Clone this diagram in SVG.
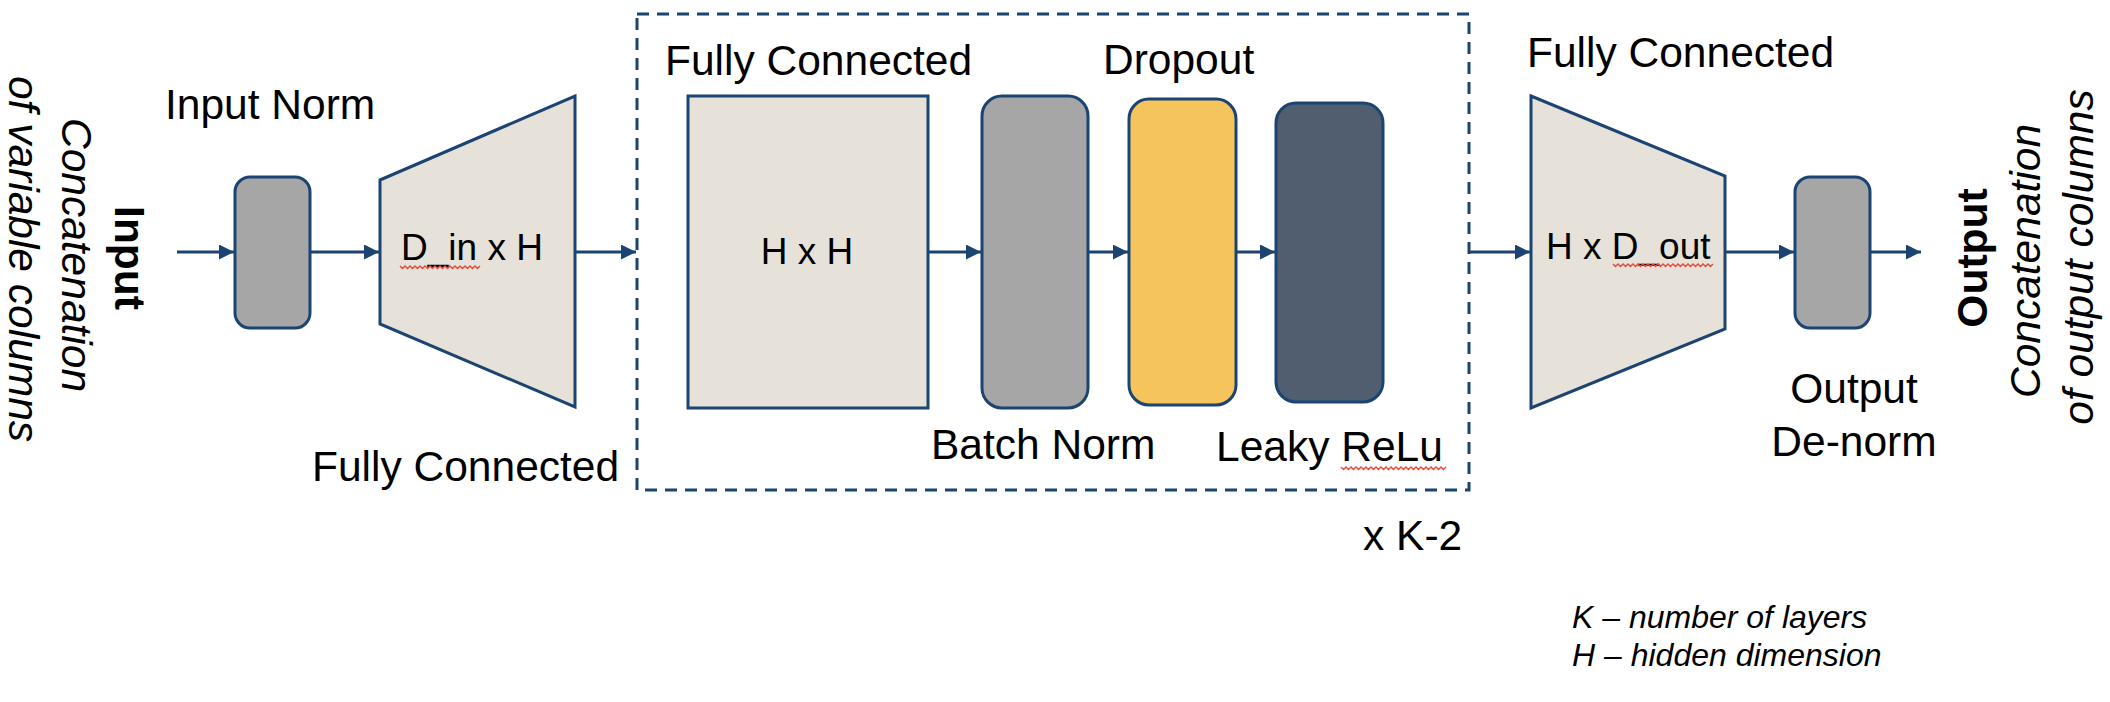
<svg xmlns="http://www.w3.org/2000/svg" width="2110" height="702" viewBox="0 0 2110 702">
<style>
  text { font-family: "Liberation Sans", Arial, sans-serif; fill: #000; }
  .lbl { font-size: 42.5px; }
  .inner { font-size: 37px; }
  .bold { font-size: 42.5px; font-weight: bold; }
  .ital { font-size: 42.5px; font-style: italic; }
  .legend { font-size: 32px; font-style: italic; }
  .mid { text-anchor: middle; }
  .node { stroke: #1B4472; stroke-width: 3; }
  .fc { fill: #E6E2D9; }
  .norm { fill: #A6A6A6; }
  .drop { fill: #F5C45C; }
  .relu { fill: #515E6F; }
  .conn line { stroke: #1B4472; stroke-width: 3; marker-end: url(#arr); }
  .squig { fill: none; stroke: #E8493B; stroke-width: 1.4; }
</style>
<defs>
  <marker id="arr" markerUnits="userSpaceOnUse" markerWidth="15" markerHeight="15" refX="15" refY="7.5" orient="auto">
    <path d="M0,0 L15,7.5 L0,15 z" fill="#1B4472"/>
  </marker>
</defs>
<rect width="2110" height="702" fill="#FFFFFF"/>

<g id="input-label">
  <text class="bold mid" transform="translate(115,258) rotate(90)">Input</text>
  <text class="ital mid" transform="translate(62,255) rotate(90)">Concatenation</text>
  <text class="ital mid" transform="translate(9,259) rotate(90)">of variable columns</text>
</g>

<g id="input-norm">
  <rect class="node norm" x="235" y="177" width="75" height="151" rx="15"/>
  <text class="lbl" x="165" y="119">Input Norm</text>
</g>

<g id="fc-in">
  <polygon class="node fc" points="380,180 575,96 575,407 380,324"/>
  <text class="inner" x="401" y="260">D_in x H</text>
  <path class="squig" d="M400,266 l2.5,2.5 l2.5,-2.5 l2.5,2.5 l2.5,-2.5 l2.5,2.5 l2.5,-2.5 l2.5,2.5 l2.5,-2.5 l2.5,2.5 l2.5,-2.5 l2.5,2.5 l2.5,-2.5 l2.5,2.5 l2.5,-2.5 l2.5,2.5 l2.5,-2.5 l2.5,2.5 l2.5,-2.5 l2.5,2.5 l2.5,-2.5 l2.5,2.5 l2.5,-2.5 l2.5,2.5 l2.5,-2.5 l2.5,2.5 l2.5,-2.5 l2.5,2.5 l2.5,-2.5 l2.5,2.5 l2.5,-2.5 l2.5,2.5 l2.5,-2.5"/>
  <text class="lbl" x="312" y="481">Fully Connected</text>
</g>

<g id="repeat-block">
  <rect x="637" y="14" width="832" height="476" fill="none" stroke="#1B4472" stroke-width="3" stroke-dasharray="12,8"/>
  <text class="lbl" x="1363" y="550">x K-2</text>
</g>

<g id="fc-hidden">
  <rect class="node fc" x="688" y="96" width="240" height="312"/>
  <text class="inner mid" x="807" y="264">H x H</text>
  <text class="lbl" x="665" y="75">Fully Connected</text>
</g>

<g id="batch-norm">
  <rect class="node norm" x="982" y="96" width="106" height="312" rx="20"/>
  <text class="lbl" x="931" y="459">Batch Norm</text>
</g>

<g id="dropout">
  <rect class="node drop" x="1129" y="99" width="107" height="306" rx="20"/>
  <text class="lbl" x="1103" y="74">Dropout</text>
</g>

<g id="leaky-relu">
  <rect class="node relu" x="1276" y="103" width="107" height="299" rx="20"/>
  <text class="lbl" x="1216" y="461">Leaky ReLu</text>
  <path class="squig" d="M1341,467 l2.5,2.5 l2.5,-2.5 l2.5,2.5 l2.5,-2.5 l2.5,2.5 l2.5,-2.5 l2.5,2.5 l2.5,-2.5 l2.5,2.5 l2.5,-2.5 l2.5,2.5 l2.5,-2.5 l2.5,2.5 l2.5,-2.5 l2.5,2.5 l2.5,-2.5 l2.5,2.5 l2.5,-2.5 l2.5,2.5 l2.5,-2.5 l2.5,2.5 l2.5,-2.5 l2.5,2.5 l2.5,-2.5 l2.5,2.5 l2.5,-2.5 l2.5,2.5 l2.5,-2.5 l2.5,2.5 l2.5,-2.5 l2.5,2.5 l2.5,-2.5 l2.5,2.5 l2.5,-2.5 l2.5,2.5 l2.5,-2.5 l2.5,2.5 l2.5,-2.5 l2.5,2.5 l2.5,-2.5 l2.5,2.5 l2.5,-2.5"/>
</g>

<g id="fc-out">
  <polygon class="node fc" points="1531,96 1725,176 1725,329 1531,408"/>
  <text class="inner" x="1546" y="259">H x D_out</text>
  <path class="squig" d="M1613,264 l2.5,2.5 l2.5,-2.5 l2.5,2.5 l2.5,-2.5 l2.5,2.5 l2.5,-2.5 l2.5,2.5 l2.5,-2.5 l2.5,2.5 l2.5,-2.5 l2.5,2.5 l2.5,-2.5 l2.5,2.5 l2.5,-2.5 l2.5,2.5 l2.5,-2.5 l2.5,2.5 l2.5,-2.5 l2.5,2.5 l2.5,-2.5 l2.5,2.5 l2.5,-2.5 l2.5,2.5 l2.5,-2.5 l2.5,2.5 l2.5,-2.5 l2.5,2.5 l2.5,-2.5 l2.5,2.5 l2.5,-2.5 l2.5,2.5 l2.5,-2.5 l2.5,2.5 l2.5,-2.5 l2.5,2.5 l2.5,-2.5 l2.5,2.5 l2.5,-2.5 l2.5,2.5 l2.5,-2.5"/>
  <text class="lbl" x="1527" y="67">Fully Connected</text>
</g>

<g id="output-denorm">
  <rect class="node norm" x="1795" y="177" width="75" height="151" rx="15"/>
  <text class="lbl mid" x="1854" y="403">Output</text>
  <text class="lbl mid" x="1854" y="456">De-norm</text>
</g>

<g id="output-label">
  <text class="bold mid" transform="translate(1987,258) rotate(-90)">Output</text>
  <text class="ital mid" transform="translate(2040,261) rotate(-90)">Concatenation</text>
  <text class="ital mid" transform="translate(2093,257) rotate(-90)">of output columns</text>
</g>

<g id="legend">
  <text class="legend" x="1572" y="628">K – number of layers</text>
  <text class="legend" x="1572" y="666">H – hidden dimension</text>
</g>

<g id="connectors" class="conn">
  <line x1="177" y1="252" x2="234" y2="252"/>
  <line x1="310" y1="252" x2="379" y2="252"/>
  <line x1="575" y1="252" x2="636" y2="252"/>
  <line x1="928" y1="252" x2="981" y2="252"/>
  <line x1="1088" y1="252" x2="1128" y2="252"/>
  <line x1="1236" y1="252" x2="1275" y2="252"/>
  <line x1="1469" y1="252" x2="1530" y2="252"/>
  <line x1="1726" y1="252" x2="1794" y2="252"/>
  <line x1="1871" y1="252" x2="1921" y2="252"/>
</g>
</svg>
